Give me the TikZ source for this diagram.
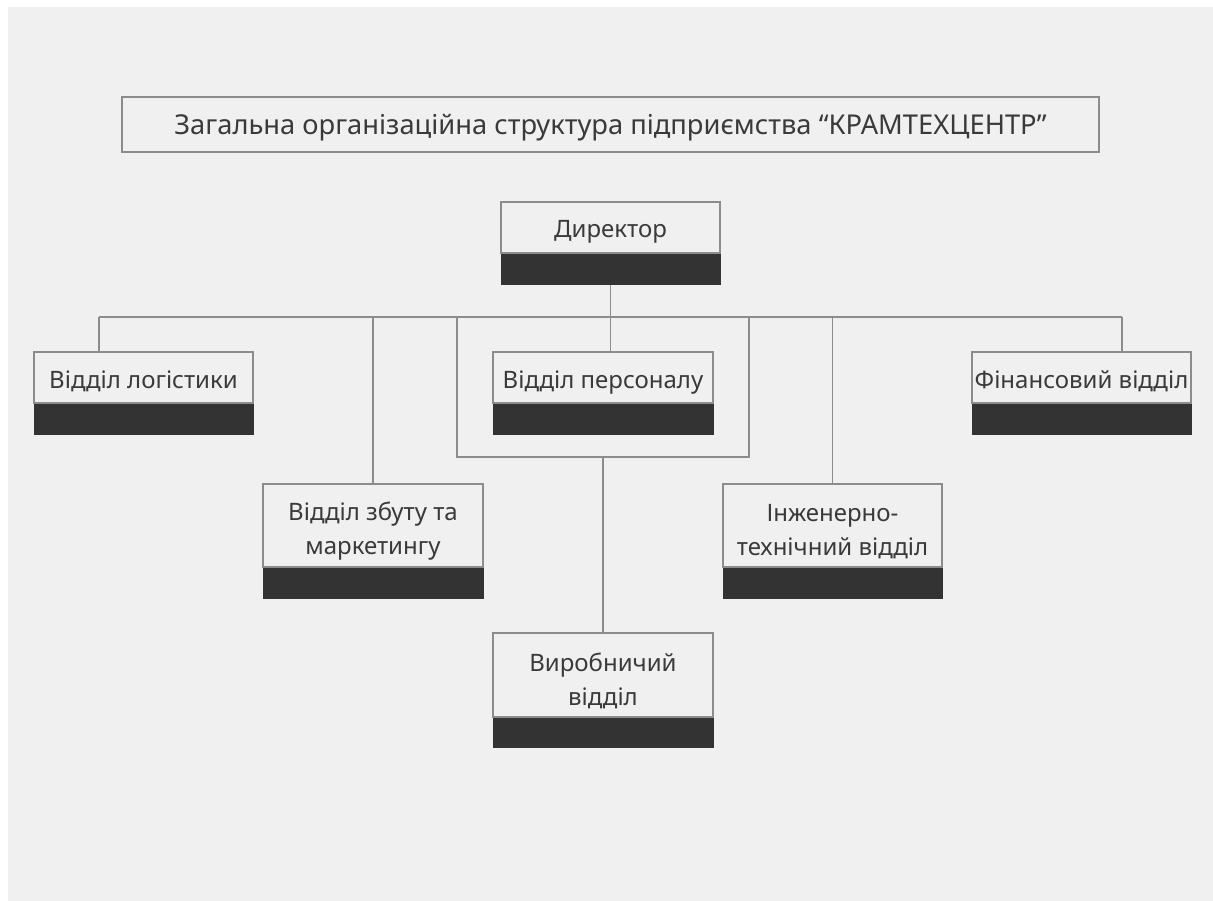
\documentclass[tikz,border=0pt]{standalone}
\usepackage{fontspec}
\setmainfont{Noto Sans}
\definecolor{bg}{HTML}{F0F0F0}
\definecolor{edge}{HTML}{8C8C8C}
\definecolor{band}{HTML}{333333}
\definecolor{txt}{HTML}{3A3A3A}
\newcommand{\lift}{\rule{0pt}{30pt}}
\tikzset{
  wbox/.style={draw=edge, line width=1.5pt, fill=bg, text=txt, align=center,
    inner sep=0pt, font=\fontsize{24}{34}\selectfont},
  oneline/.style={text height=21pt, text depth=0pt},
  dband/.style={draw=band, line width=1pt, fill=band, inner sep=0pt, anchor=north},
  conn/.style={draw=edge, line width=1.5pt}
}
\begin{document}
\begin{tikzpicture}[x=1pt,y=-1pt]
\useasboundingbox (0,0) rectangle (1213,901);
\fill[white] (0,0) rectangle (1213,901);
\fill[bg] (8,7) rectangle (1213,901);
% title
\node[wbox, oneline, font=\fontsize{27.3}{34}\selectfont, minimum width=977pt, minimum height=55pt] (title) at (610.5,124.5)
  {Загальна організаційна структура підприємства “КРАМТЕХЦЕНТР”};
% director
\node[wbox, oneline, minimum width=219pt, minimum height=51pt] (dir) at (610.5,227.5) {Директор};
\node[dband, minimum width=219pt, minimum height=30pt] (dirb) at (dir.south) {};
% first row
\node[wbox, oneline, minimum width=219pt, minimum height=51pt] (lg) at (143.5,377.5) {Відділ логістики};
\node[dband, minimum width=219pt, minimum height=30pt] (lgb) at (lg.south) {};
\node[wbox, oneline, minimum width=220pt, minimum height=51pt] (pers) at (603,377.5) {Відділ персоналу};
\node[dband, minimum width=220pt, minimum height=30pt] (persb) at (pers.south) {};
\node[wbox, oneline, minimum width=219pt, minimum height=51pt] (fin) at (1081.5,377.5) {Фінансовий відділ};
\node[dband, minimum width=219pt, minimum height=30pt] (finb) at (fin.south) {};
% second row
\node[wbox, minimum width=220pt, minimum height=83pt] (sales) at (373,525.5) {\lift Відділ збуту та\\маркетингу};
\node[dband, minimum width=220pt, minimum height=30pt] (salesb) at (sales.south) {};
\node[wbox, minimum width=219pt, minimum height=83pt] (eng) at (832.5,525.5) {\lift Інженерно-\\технічний відділ};
\node[dband, minimum width=219pt, minimum height=30pt] (engb) at (eng.south) {};
% production
\node[wbox, minimum width=220pt, minimum height=84pt] (prod) at (603,675) {\lift Виробничий\\відділ};
\node[dband, minimum width=220pt, minimum height=29pt] (prodb) at (prod.south) {};
% connector coordinates
\coordinate (busL) at (99,317);
\coordinate (busR) at (1122,317);
\coordinate (loopTL) at (457,317);
\coordinate (loopBR) at (749,457);
% connectors
\draw[conn] (busL) -- (busR);
\draw[conn] (dirb.south) -- (dirb.south |- pers.north);
\draw[conn] (busL) -- (busL |- lg.north);
\draw[conn] (busR) -- (busR |- fin.north);
\draw[conn] (sales.north |- busL) -- (sales.north);
\draw[conn] (eng.north |- busL) -- (eng.north);
\draw[conn] (loopTL) |- (loopBR) -- (loopBR |- busL);
\draw[conn] (prod.north |- loopBR) -- (prod.north);
\end{tikzpicture}
\end{document}
